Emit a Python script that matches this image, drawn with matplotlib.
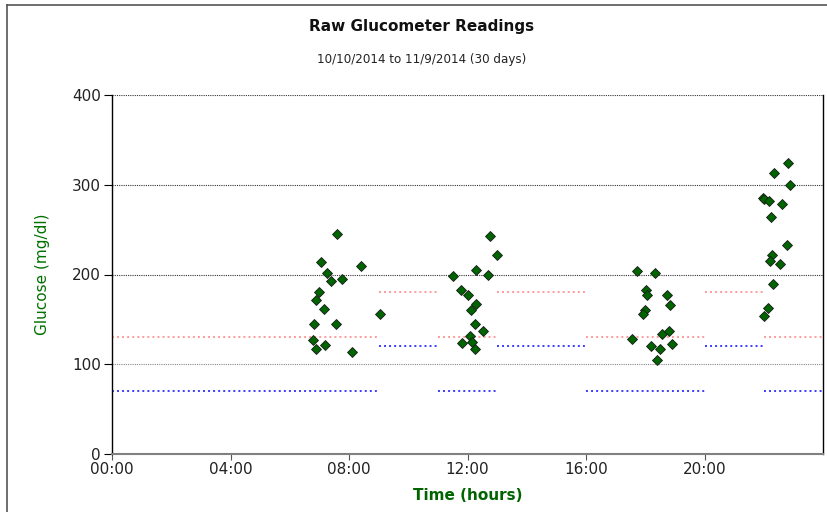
import matplotlib
matplotlib.use('Agg')
import matplotlib.pyplot as plt
from matplotlib.lines import Line2D

# readings: hour of day, glucose mg/dl
hours = [7.58, 7.07, 8.40, 7.27, 7.38, 7.77, 6.99, 6.90, 7.15, 9.03, 6.81, 7.57, 6.80, 6.90, 7.18, 8.09,
         12.77, 12.98, 12.30, 12.69, 11.51, 11.77, 12.01, 12.28, 12.12, 12.24, 12.54, 12.07, 11.82, 12.14, 12.24,
         17.73, 18.33, 18.04, 18.05, 18.72, 18.82, 17.99, 17.91, 18.57, 18.81, 17.56, 18.90, 18.21, 18.49, 18.39,
         22.81, 22.35, 22.89, 21.97, 22.02, 22.19, 22.61, 22.24, 22.78, 22.28, 22.22, 22.56, 22.30, 22.13, 22.02]
glucose = [245, 214, 210, 202, 193, 195, 181, 172, 162, 156, 145, 145, 127, 117, 121, 114,
           243, 222, 205, 199, 198, 183, 177, 167, 161, 145, 137, 131, 124, 125, 117,
           204, 202, 183, 177, 177, 166, 161, 156, 134, 137, 128, 123, 120, 117, 105,
           324, 313, 300, 285, 284, 282, 278, 264, 233, 222, 215, 212, 189, 163, 154]

# target ranges per time block
seg_start = [0, 9, 11, 13, 16, 20, 22]
seg_end = [9, 11, 13, 16, 20, 22, 24]
seg_high = [130, 180, 130, 180, 130, 180, 130]
seg_low = [70, 120, 70, 120, 70, 120, 70]

xticks = [0, 4, 8, 12, 16, 20]
xticklabels = ['00:00', '04:00', '08:00', '12:00', '16:00', '20:00']
yticks = [0, 100, 200, 300, 400]

fig = plt.figure(figsize=(8.27, 5.12), dpi=100)
ax = fig.add_axes([112 / 827, 58 / 512, 711 / 827, 359 / 512])

for s, e, hi, lo in zip(seg_start, seg_end, seg_high, seg_low):
    ax.plot([s, e], [hi, hi], color='#ff9a9a', lw=1.4, ls=(0, (1, 1.6)), zorder=2)
    ax.plot([s, e], [lo, lo], color='#3a3aff', lw=1.4, ls=(0, (1, 1.6)), zorder=2)

ax.plot(hours, glucose, 'D', ms=5.2, mfc='#006400', mec='#1a1a1a', mew=0.6, zorder=3)

ax.set_xlim(0, 24)
ax.set_ylim(0, 400)
ax.set_xticks(xticks)
ax.set_xticklabels(xticklabels)
ax.set_yticks(yticks)

for y in [100, 200, 300, 400]:
    ax.axhline(y, color='#333333' if y > 100 else '#888888', lw=0.8, ls=(0, (1, 1)), zorder=1)

ax.spines['top'].set_visible(False)
ax.spines['left'].set_color('black')
ax.spines['left'].set_linewidth(1.0)
ax.spines['right'].set_color('black')
ax.spines['right'].set_linewidth(1.0)
ax.spines['bottom'].set_color('#808080')
ax.spines['bottom'].set_linewidth(1.5)

ax.tick_params(axis='y', length=6, width=0.8, color='black', labelsize=11, labelcolor='#222222', pad=2)
ax.tick_params(axis='x', length=4, width=0.8, color='#555555', labelsize=11, labelcolor='#222222', pad=2)

ax.set_xlabel('Time (hours)', color='#006400', fontsize=11, fontweight='bold', labelpad=8)
ax.set_ylabel('Glucose (mg/dl)', color='#007000', fontsize=11, labelpad=16)

fig.text(422 / 827, 1 - 27 / 512, 'Raw Glucometer Readings', ha='center', va='center',
         fontsize=11, fontweight='bold', color='#111111')
fig.text(422 / 827, 1 - 60 / 512, '10/10/2014 to 11/9/2014 (30 days)', ha='center', va='center',
         fontsize=8.6, color='#222222')

# outer frame (top and left edges visible)
fig.add_artist(Line2D([7 / 827, 1], [1 - 4.5 / 512, 1 - 4.5 / 512], color='#555555', lw=1.2,
                      transform=fig.transFigure))
fig.add_artist(Line2D([7 / 827, 7 / 827], [0, 1 - 4.5 / 512], color='#555555', lw=1.2,
                      transform=fig.transFigure))

fig.savefig('out.png', dpi=100)
